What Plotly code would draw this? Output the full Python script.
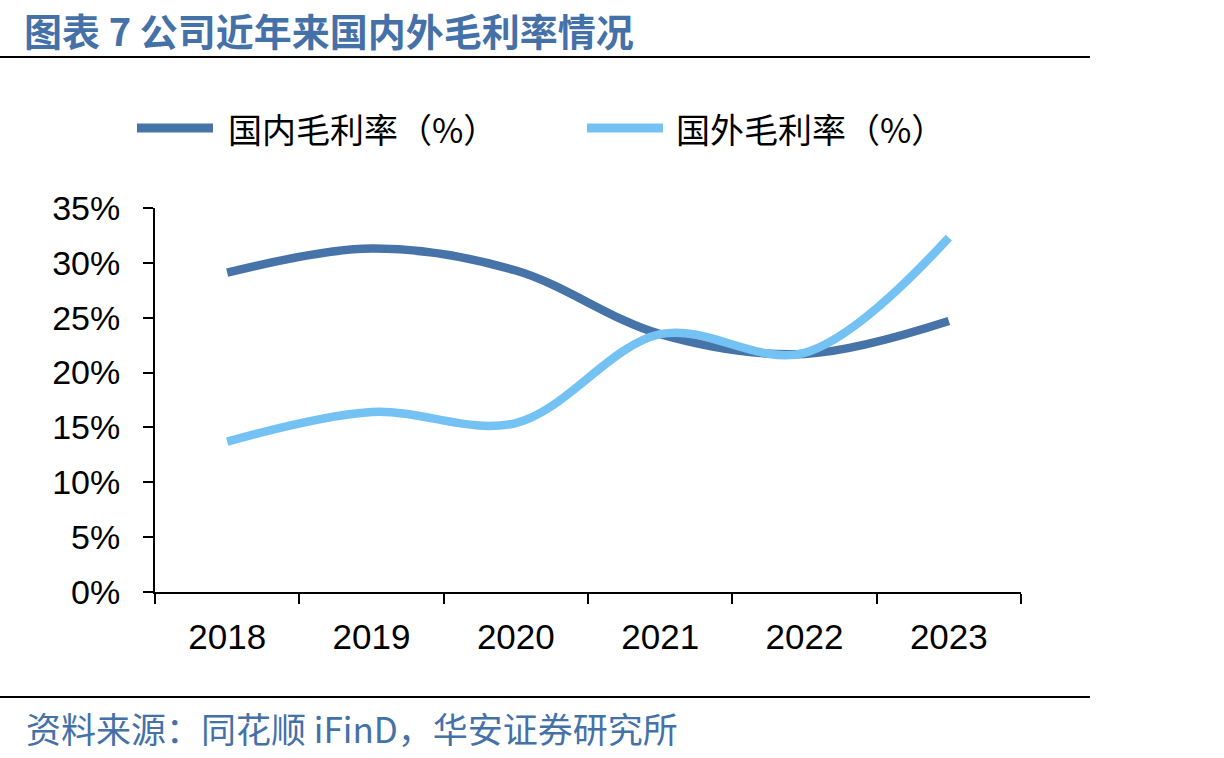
import plotly.graph_objects as go

years = ["2018", "2019", "2020", "2021", "2022", "2023"]
domestic = [29.1, 31.3, 29.3, 23.5, 21.7, 24.7]
foreign = [13.7, 16.4, 15.4, 23.5, 21.8, 32.3]
series_names = ["国内毛利率（%）", "国外毛利率（%）"]
y_ticks = [0, 5, 10, 15, 20, 25, 30, 35]
y_ticktext = [f"{v}%" for v in y_ticks]

title_text = "图表 7 公司近年来国内外毛利率情况"
source_text = "资料来源：同花顺 iFinD，华安证券研究所"

C_DARK = "#4673A8"
C_LIGHT = "#74C2F4"
C_TITLE = "#4471A8"

W, H = 1224, 758
L, R, T, B = 155, 1021, 208, 592


def px_x(px):
    return (px - L) / (R - L)


def px_y(py):
    return (B - py) / (B - T)


fig = go.Figure()
for name, vals, col in [(series_names[0], domestic, C_DARK), (series_names[1], foreign, C_LIGHT)]:
    fig.add_trace(go.Scatter(
        x=years, y=vals, name=name, mode="lines",
        line=dict(color=col, width=8.5, shape="spline", smoothing=1.0),
        showlegend=False, hoverinfo="x+y",
    ))

fig.update_layout(
    width=W, height=H,
    margin=dict(l=L, r=W - R, t=T, b=H - B, pad=0),
    paper_bgcolor="white", plot_bgcolor="white",
    font=dict(family="Liberation Sans, Arial, sans-serif", color="black"),
    xaxis=dict(
        type="category", range=[-0.5, 5.5], tickson="boundaries",
        ticks="outside", ticklen=10, tickwidth=2, tickcolor="black",
        showline=True, linecolor="black", linewidth=2,
        showgrid=False, zeroline=False,
        tickfont=dict(size=35, family="Liberation Sans, Arial, sans-serif", color="black"),
        ticklabelstandoff=13,
    ),
    yaxis=dict(
        range=[0, 35], tickvals=y_ticks, ticktext=y_ticktext,
        ticks="outside", ticklen=10, tickwidth=2, tickcolor="black",
        showline=True, linecolor="black", linewidth=2,
        showgrid=False, zeroline=False,
        tickfont=dict(size=34, family="Liberation Sans, Arial, sans-serif", color="black"),
        ticklabelstandoff=16,
    ),
)

shapes = [
    dict(type="line", xref="paper", yref="paper", x0=px_x(0), x1=px_x(1090), y0=px_y(57), y1=px_y(57),
         line=dict(color="black", width=2)),
    dict(type="line", xref="paper", yref="paper", x0=px_x(0), x1=px_x(1090), y0=px_y(697), y1=px_y(697),
         line=dict(color="black", width=2)),
    dict(type="line", xref="paper", yref="paper", x0=px_x(137), x1=px_x(213), y0=px_y(128), y1=px_y(128),
         line=dict(color=C_DARK, width=9)),
    dict(type="line", xref="paper", yref="paper", x0=px_x(587), x1=px_x(663), y0=px_y(128), y1=px_y(128),
         line=dict(color=C_LIGHT, width=9)),
]
fig.update_layout(shapes=shapes)

cjk = "Noto Sans CJK SC, sans-serif"
annotations = [
    dict(text=f"<b>{title_text}</b>", xref="paper", yref="paper", x=px_x(22), y=px_y(29),
         xanchor="left", yanchor="middle", showarrow=False,
         font=dict(family=cjk, size=38, color=C_TITLE)),
    dict(text=series_names[0], xref="paper", yref="paper", x=px_x(226), y=px_y(128),
         xanchor="left", yanchor="middle", showarrow=False,
         font=dict(family=cjk, size=34, color="black")),
    dict(text=series_names[1], xref="paper", yref="paper", x=px_x(674), y=px_y(128),
         xanchor="left", yanchor="middle", showarrow=False,
         font=dict(family=cjk, size=34, color="black")),
    dict(text=source_text, xref="paper", yref="paper", x=px_x(24), y=px_y(727),
         xanchor="left", yanchor="middle", showarrow=False,
         font=dict(family=cjk, size=35, color=C_TITLE)),
]
fig.update_layout(annotations=annotations)

fig.write_html("out.html")
